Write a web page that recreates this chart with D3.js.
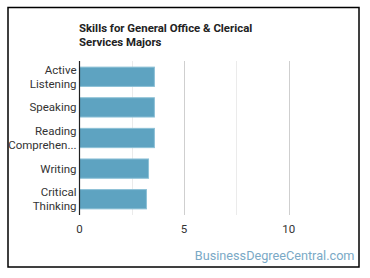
<!DOCTYPE html>
<html>
<head>
<meta charset="utf-8">
<script src="https://cdn.jsdelivr.net/npm/d3@7"></script>
<style>
  body { margin: 0; background: #fff; }
  svg { display: block; font-family: Roboto, "Open Sans", sans-serif; }
</style>
</head>
<body>
<div id="chart"></div>
<script>
const skills = [['Active', 'Listening'], ['Speaking'], ['Reading', 'Comprehen...'], ['Writing'], ['Critical', 'Thinking']];
const scores = [3.58, 3.58, 3.58, 3.3, 3.2];
const ticks = [0, 5, 10];
const titleLines = ['Skills for General Office & Clerical', 'Services Majors'];

const width = 370, height = 278;
const plotLeft = 79.5, plotRight = 341, plotTop = 61, plotBottom = 215;

const svg = d3.select('#chart').append('svg').attr('width', width).attr('height', height);

// outer frame
svg.append('rect').attr('x', 8).attr('y', 7.5).attr('width', 351).attr('height', 259.5)
    .attr('fill', '#fff').attr('stroke', '#000').attr('stroke-width', 1.5);

const x = d3.scaleLinear().domain([0, 12.5]).range([plotLeft, plotRight]);
const y = d3.scaleBand().domain(d3.range(skills.length)).range([plotTop, plotBottom]).paddingInner(0.37).paddingOuter(0.2);

// grid
svg.append('g').selectAll('line').data([2.5, 5, 7.5, 10]).enter().append('line')
    .attr('x1', d => Math.round(x(d)) + 0.5).attr('x2', d => Math.round(x(d)) + 0.5)
    .attr('y1', plotTop).attr('y2', plotBottom)
    .attr('stroke', d => d % 5 === 0 ? '#cfcfcf' : '#ebebeb').attr('stroke-width', 1);

svg.append('g').selectAll('rect').data(scores).enter().append('rect')
    .attr('x', x(0))
    .attr('y', (d, i) => y(i))
    .attr('width', d => x(d) - x(0))
    .attr('height', y.bandwidth())
    .attr('fill', '#5ea3c1')
    .attr('stroke', '#8cc0d6').attr('stroke-width', 1);

// y axis line
svg.append('line').attr('x1', plotLeft).attr('x2', plotLeft).attr('y1', plotTop).attr('y2', plotBottom)
    .attr('stroke', '#222').attr('stroke-width', 1.2);

// category labels
svg.append('g').selectAll('text').data(skills).enter().append('text')
    .attr('text-anchor', 'end')
    .attr('font-size', 11.5).attr('fill', '#333')
    .each(function(d, i) {
        const cy = y(i) + y.bandwidth() / 2;
        const lh = 13.5;
        d.forEach((line, j) => {
            d3.select(this).append('tspan')
                .attr('x', plotLeft - 3)
                .attr('y', cy + (j - (d.length - 1) / 2) * lh + 4)
                .text(line);
        });
    });

// x tick labels
svg.append('g').selectAll('text').data(ticks).enter().append('text')
    .attr('x', d => x(d)).attr('y', 232.5)
    .attr('text-anchor', 'middle').attr('font-size', 11.5).attr('fill', '#333')
    .text(d => d);

// title
svg.append('text').attr('font-size', 11.4).attr('font-weight', 'bold').attr('fill', '#222')
    .selectAll('tspan').data(titleLines).enter().append('tspan')
    .attr('x', 79).attr('y', (d, i) => 32 + i * 14).text(d => d);

// watermark
svg.append('text').attr('x', 354.5).attr('y', 260).attr('text-anchor', 'end')
    .attr('font-size', 12.7).attr('fill', '#7aa9c6').text('BusinessDegreeCentral.com');
</script>
</body>
</html>
